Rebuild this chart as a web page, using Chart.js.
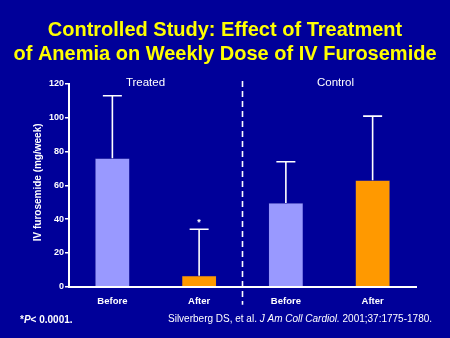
<!DOCTYPE html>
<html>
<head>
<meta charset="utf-8">
<script src="https://cdn.jsdelivr.net/npm/chart.js@4/dist/chart.umd.min.js"></script>
<style>
  html, body { margin: 0; padding: 0; background: #000099; }
  #wrap { position: relative; width: 450px; height: 338px; }
  canvas { display: block; }
</style>
</head>
<body>
<div id="wrap"><canvas id="c" width="450" height="338"></canvas></div>
<script>
// Weekly IV furosemide dose (mg/week), mean with upper SD
const categories = ['Before', 'After', 'Before', 'After'];
const groups = ['Treated', 'Control'];
const meanDose = [76, 6.5, 49.5, 63];
const upperDose = [113, 34, 74, 101];
const barColors = ['#9999FF', '#FF9900', '#9999FF', '#FF9900'];
const yTicks = [0, 20, 40, 60, 80, 100, 120];
const significant = [false, true, false, false];

const FONT = '"Liberation Sans", Arial, sans-serif';

const decorations = {
  id: 'decorations',
  beforeDraw(chart) {
    const ctx = chart.ctx;
    ctx.save();
    ctx.fillStyle = '#000099';
    ctx.fillRect(0, 0, chart.width, chart.height);
    ctx.restore();
  },
  afterDatasetsDraw(chart) {
    const ctx = chart.ctx;
    const x = chart.scales.x, y = chart.scales.y;
    const area = chart.chartArea;
    ctx.save();

    // error bars (upper only)
    ctx.strokeStyle = '#FFFFFF';
    ctx.lineWidth = 1.6;
    meanDose.forEach((m, i) => {
      const cx = x.getPixelForValue(i);
      const yTop = y.getPixelForValue(upperDose[i]);
      const yBar = y.getPixelForValue(m);
      ctx.beginPath();
      ctx.moveTo(cx, yBar);
      ctx.lineTo(cx, yTop);
      ctx.moveTo(cx - 9.5, yTop);
      ctx.lineTo(cx + 9.5, yTop);
      ctx.stroke();
      if (significant[i]) {
        ctx.fillStyle = '#FFFFFF';
        ctx.font = 'bold 9px ' + FONT;
        ctx.textAlign = 'center';
        ctx.textBaseline = 'middle';
        ctx.fillText('*', cx, yTop - 7);
      }
    });

    // dashed divider between groups
    const xDiv = (x.getPixelForValue(1) + x.getPixelForValue(2)) / 2;
    ctx.setLineDash([6, 4]);
    ctx.lineWidth = 1.6;
    ctx.beginPath();
    ctx.moveTo(xDiv, area.top - 3);
    ctx.lineTo(xDiv, area.bottom + 18);
    ctx.stroke();
    ctx.setLineDash([]);

    // group labels
    ctx.fillStyle = '#FFFFFF';
    ctx.font = '11.5px ' + FONT;
    ctx.textAlign = 'center';
    ctx.textBaseline = 'middle';
    ctx.fillText(groups[0], 145.5, area.top - 1);
    ctx.fillText(groups[1], 335.5, area.top - 1);

    // y axis title
    ctx.save();
    ctx.translate(38, (area.top + area.bottom) / 2 - 3);
    ctx.rotate(-Math.PI / 2);
    ctx.font = 'bold 10px ' + FONT;
    ctx.fillText('IV furosemide (mg/week)', 0, 0);
    ctx.restore();

    // title
    ctx.fillStyle = '#FFFF00';
    ctx.font = 'bold 20px ' + FONT;
    ctx.fillText('Controlled Study: Effect of Treatment', 225, 30);
    ctx.fillText('of Anemia on Weekly Dose of IV Furosemide', 225, 54);

    // footnotes
    ctx.fillStyle = '#FFFFFF';
    ctx.textAlign = 'left';
    ctx.font = 'bold 10px ' + FONT;
    ctx.fillText('*', 20, 320);
    let px = 20 + ctx.measureText('*').width;
    ctx.font = 'italic bold 10px ' + FONT;
    ctx.fillText('P', px, 320);
    px += ctx.measureText('P').width;
    ctx.font = 'bold 10px ' + FONT;
    ctx.fillText('< 0.0001.', px, 320);

    const parts = [
      ['Silverberg DS, et al. ', '10px '],
      ['J Am Coll Cardiol.', 'italic 10px '],
      [' 2001;37:1775-1780.', '10px ']
    ];
    px = 168;
    parts.forEach(([t, f]) => {
      ctx.font = f + FONT;
      ctx.fillText(t, px, 319);
      px += ctx.measureText(t).width;
    });
    ctx.restore();
  }
};

new Chart(document.getElementById('c'), {
  type: 'bar',
  data: {
    labels: categories,
    datasets: [{
      data: meanDose,
      backgroundColor: barColors,
      borderColor: 'rgba(60,60,140,0.6)',
      borderWidth: 0.5,
      barPercentage: 0.4,
      categoryPercentage: 1.0
    }]
  },
  options: {
    responsive: false,
    animation: false,
    devicePixelRatio: 1,
    layout: { padding: { left: 0, right: 34, top: 84, bottom: 0 } },
    plugins: {
      legend: { display: false },
      title: { display: false },
      tooltip: { enabled: false }
    },
    scales: {
      x: {
        grid: { display: false, drawTicks: false },
        border: { display: true, color: '#FFFFFF', width: 2 },
        ticks: {
          color: '#FFFFFF',
          font: { family: FONT, size: 9.5, weight: 'bold' },
          padding: 9,
          maxRotation: 0
        },
        afterFit(s) { s.height = 51.3; }
      },
      y: {
        min: 0,
        max: 120,
        afterBuildTicks(s) { s.ticks = yTicks.map(v => ({ value: v })); },
        grid: { drawOnChartArea: false, drawTicks: true, tickLength: 4, color: '#FFFFFF', lineWidth: 1.5 },
        border: { display: true, color: '#FFFFFF', width: 2 },
        ticks: {
          color: '#FFFFFF',
          font: { family: FONT, size: 9, weight: 'bold' },
          padding: 1
        },
        afterFit(s) { s.width = 69; }
      }
    }
  },
  plugins: [decorations]
});
</script>
</body>
</html>
